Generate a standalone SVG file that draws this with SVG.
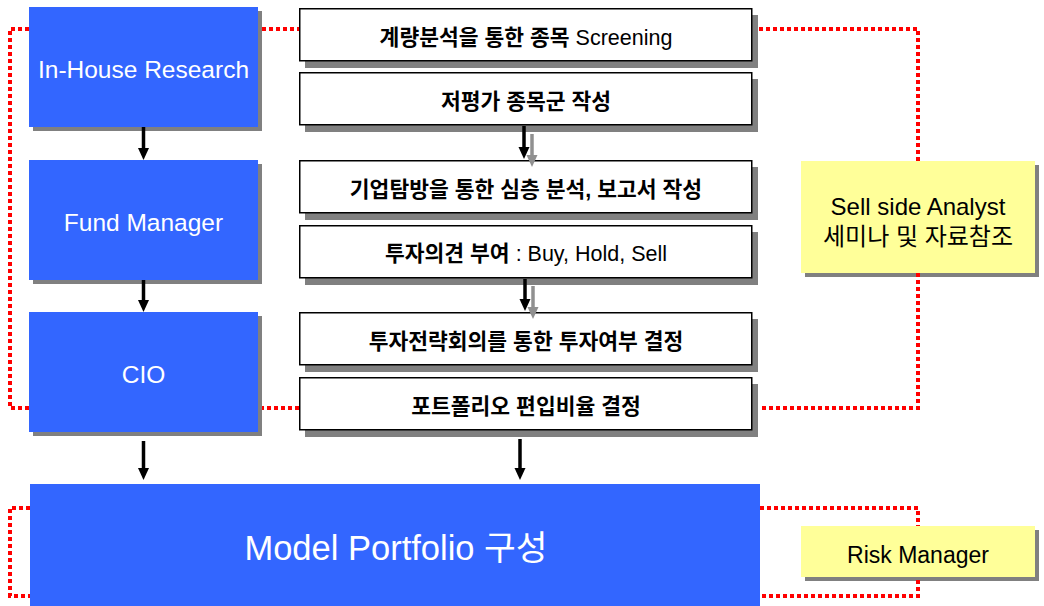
<svg xmlns="http://www.w3.org/2000/svg" width="1044" height="606" viewBox="0 0 1044 606">
<defs>
<style>
.blue{fill:#3366FF}
.sh{fill:#808080}
.wbox{fill:#FFFFFF;stroke:#000000;stroke-width:1.5}
.ybox{fill:#FFFF99}
.t{font-family:"Liberation Sans","Noto Sans CJK KR",sans-serif;text-anchor:middle}
.wt{fill:#FFFFFF;font-size:24.5px}
.bt{fill:#000000;font-size:21.5px;font-weight:bold}
.lat{font-weight:normal}
.yt{fill:#000000;font-size:24px}
.dot{fill:none;stroke:#FF0000;stroke-width:4;stroke-dasharray:4 3}
.arr{stroke:#000000;stroke-width:3.5;fill:none}
.arrg{stroke:#909090;stroke-width:3.5;fill:none}
</style>
<marker id="ah" viewBox="0 0 12 12" refX="6" refY="6" markerWidth="12" markerHeight="12" markerUnits="userSpaceOnUse" orient="auto"><path d="M0,0.5 L12,6 L0,11.5 z" fill="#000000"/></marker>
<marker id="ahg" viewBox="0 0 12 12" refX="6" refY="6" markerWidth="12" markerHeight="12" markerUnits="userSpaceOnUse" orient="auto"><path d="M0,0.5 L12,6 L0,11.5 z" fill="#909090"/></marker>
</defs>
<rect width="1044" height="606" fill="#FFFFFF"/>

<g id="inhouse">
<rect class="sh" x="33" y="11" width="229" height="120"/>
<rect class="blue" x="29" y="7" width="229" height="120"/>
<text class="t wt" x="143.5" y="78">In-House Research</text>
</g>
<g id="fundmanager">
<rect class="sh" x="33" y="164" width="229" height="120"/>
<rect class="blue" x="29" y="160" width="229" height="120"/>
<text class="t wt" x="143.5" y="231">Fund Manager</text>
</g>
<g id="cio">
<rect class="sh" x="33" y="316" width="229" height="120"/>
<rect class="blue" x="29" y="312" width="229" height="120"/>
<text class="t wt" x="143.5" y="383">CIO</text>
</g>

<g id="step1">
<rect class="sh" x="305" y="15" width="453" height="53"/>
<rect class="wbox" x="299.75" y="8.75" width="452" height="52"/>
<text class="t bt" x="526" y="45">계량분석을 통한 종목 <tspan class="lat">Screening</tspan></text>
</g>
<g id="step2">
<rect class="sh" x="305" y="79" width="453" height="53"/>
<rect class="wbox" x="299.75" y="72.75" width="452" height="52"/>
<text class="t bt" x="526" y="109">저평가 종목군 작성</text>
</g>
<g id="step3">
<rect class="sh" x="305" y="167" width="453" height="53"/>
<rect class="wbox" x="299.75" y="160.75" width="452" height="52"/>
<text class="t bt" x="526" y="197">기업탐방을 통한 심층 분석, 보고서 작성</text>
</g>
<g id="step4">
<rect class="sh" x="305" y="232" width="453" height="53"/>
<rect class="wbox" x="299.75" y="225.75" width="452" height="52"/>
<text class="t bt" x="526" y="261">투자의견 부여 <tspan class="lat">: Buy, Hold, Sell</tspan></text>
</g>
<g id="step5">
<rect class="sh" x="305" y="319" width="453" height="53"/>
<rect class="wbox" x="299.75" y="312.75" width="452" height="52"/>
<text class="t bt" x="526" y="349">투자전략회의를 통한 투자여부 결정</text>
</g>
<g id="step6">
<rect class="sh" x="305" y="384" width="453" height="53"/>
<rect class="wbox" x="299.75" y="377.75" width="452" height="52"/>
<text class="t bt" x="526" y="414">포트폴리오 편입비율 결정</text>
</g>

<g id="sellside">
<rect class="sh" x="805" y="165" width="234" height="112"/>
<rect class="ybox" x="801" y="161" width="234" height="112"/>
<text class="t yt" x="918" y="215">Sell side Analyst</text>
<text class="t yt" x="918" y="245">세미나 및 자료참조</text>
</g>
<g id="riskmanager">
<rect class="sh" x="805" y="530" width="234" height="51"/>
<rect class="ybox" x="801" y="526" width="234" height="51"/>
<text class="t yt" x="918" y="563" style="font-size:23px">Risk Manager</text>
</g>

<g id="modelportfolio">
<rect class="blue" x="30" y="484" width="730" height="122"/>
<text class="t wt" x="396" y="560" style="font-size:34.5px">Model Portfolio 구성</text>
</g>

<g id="connectors">
<path class="dot" d="M29,29 H10 V408 H29 M262,29 H299 M759,29 H918 V161 M918,273 V408 H759 M299,408 H262"/>
<path class="dot" d="M30,508 H10 V596 H30 M760,508 H918 V526 M918,580 V596 H760"/>
<line class="arr" x1="143.5" y1="127" x2="143.5" y2="154" marker-end="url(#ah)"/>
<line class="arr" x1="143.5" y1="280" x2="143.5" y2="306" marker-end="url(#ah)"/>
<line class="arr" x1="143.5" y1="441" x2="143.5" y2="474" marker-end="url(#ah)"/>
<line class="arr" x1="520" y1="439" x2="520" y2="474" marker-end="url(#ah)"/>
<line class="arrg" x1="532" y1="134" x2="532" y2="161" marker-end="url(#ahg)"/>
<line class="arr" x1="524" y1="126" x2="524" y2="153" marker-end="url(#ah)"/>
<line class="arrg" x1="533" y1="286" x2="533" y2="313" marker-end="url(#ahg)"/>
<line class="arr" x1="525" y1="279" x2="525" y2="305" marker-end="url(#ah)"/>
</g>
</svg>
